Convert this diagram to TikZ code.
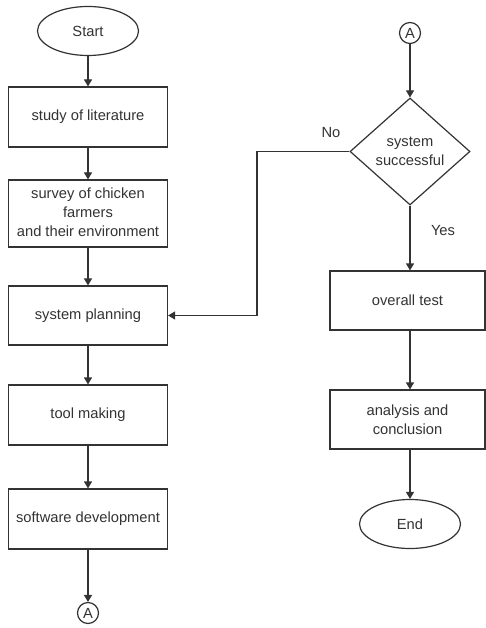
\documentclass[tikz,border=0pt]{standalone}
\usepackage{fontspec}
\setmainfont{Liberation Sans}
\usetikzlibrary{shapes.geometric,arrows.meta,calc}
\definecolor{ink}{HTML}{333333}
\begin{document}
\begin{tikzpicture}[x=1pt,y=-1pt,
  every node/.style={font=\fontsize{14.7}{19}\selectfont, text=ink},
  proc/.style={draw=ink, line width=1.2pt, rectangle, minimum width=159pt, align=center, inner sep=0pt},
  term/.style={draw=ink, line width=1.2pt, ellipse, minimum width=101pt, minimum height=49pt, inner sep=0pt},
  conn/.style={draw=ink, line width=1.2pt, circle, minimum size=21pt, inner sep=0pt},
  dec/.style={draw=ink, line width=1.2pt, diamond, minimum width=120pt, minimum height=107pt, inner sep=0pt, align=center},
  flow/.style={draw=ink, line width=1.2pt, -{Triangle[length=7pt,width=8pt]}},
  lbl/.style={inner sep=0pt}]
\useasboundingbox (0,0) rectangle (486,628);
\fill[white] (0,0) rectangle (486,628);
% left column
\node[term] (start) at (88,31) {Start};
\node[proc, minimum height=60pt] (lit) at (88,117) {study of literature};
\node[proc, minimum height=67pt] (survey) at (88,213.5) {\raisebox{3pt}{\begin{tabular}{@{}c@{}}survey of chicken\\farmers\\and their environment\end{tabular}}};
\node[proc, minimum height=59pt] (plan) at (88,315.5) {system planning};
\node[proc, minimum height=60pt] (tool) at (88,415) {tool making};
\node[proc, minimum height=60pt] (soft) at (88,519) {software development};
\node[conn] (a1) at (88,613) {A};
% right column
\node[conn] (a2) at (410,33) {A};
\node[dec] (dia) at (410,151.5) {system\\successful};
\node[proc, minimum width=155pt, minimum height=59pt] (test) at (407.5,300.5) {overall test};
\node[proc, minimum width=155pt, minimum height=59pt] (ana) at (407.5,419.5) {analysis and\\conclusion};
\node[term] (end) at (410,524) {End};
\coordinate (fb1) at (257,151.5);
\node[lbl] (no) at (331,133) {No};
\node[lbl] (yes) at (443,231) {Yes};
% connectors
\draw[flow] (start) -- (lit);
\draw[flow] (lit) -- (survey);
\draw[flow] (survey) -- (plan);
\draw[flow] (plan) -- (tool);
\draw[flow] (tool) -- (soft);
\draw[flow] (soft) -- (a1);
\draw[flow] (a2) -- (dia);
\draw[flow] (dia.south) -- (dia.south |- test.north);
\draw[flow] (dia.south |- test.south) -- (dia.south |- ana.north);
\draw[flow] (dia.south |- ana.south) -- (end);
\draw[flow] (dia.west) -- (fb1) |- (plan.east);
\end{tikzpicture}
\end{document}
